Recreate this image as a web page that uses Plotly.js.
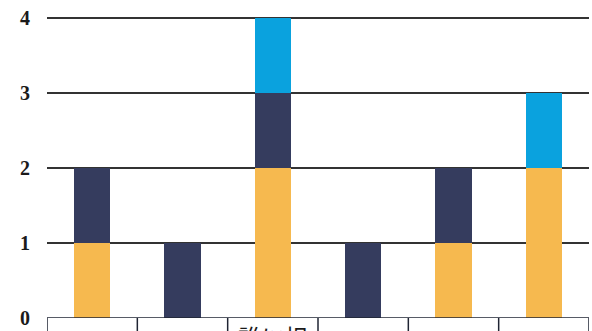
<!DOCTYPE html>
<html>
<head>
<meta charset="utf-8">
<script src="https://cdn.plot.ly/plotly-3.0.1.min.js"></script>
<style>html,body{margin:0;padding:0;background:#fff;}#chart{width:592px;height:331px;}</style>
</head>
<body>
<div id="chart"></div>
<script>
// Category labels (only the third is legible, and only partly, in the cropped reference)
const categories = ["", "", "誰に相", "", "", ""];
const positions = [0, 1, 2, 3, 4, 5];
// Stacked series values
const orangeVals = [1, 0, 2, 0, 1, 2];
const navyVals   = [1, 1, 1, 1, 1, 0];
const blueVals   = [0, 0, 1, 0, 0, 1];
const yTicks = [0, 1, 2, 3, 4];

const barW = 0.4;
const traces = [
  {type: 'bar', x: positions, y: orangeVals, width: barW, marker: {color: '#F6B94F'}, hoverinfo: 'none'},
  {type: 'bar', x: positions, y: navyVals, width: barW, marker: {color: '#353C5E'}, hoverinfo: 'none'},
  {type: 'bar', x: positions, y: blueVals, width: barW, marker: {color: '#0AA2DE'}, hoverinfo: 'none'}
];

const shapes = [];
// table top border along y=0
shapes.push({type: 'line', xref: 'x', yref: 'y', x0: -0.5, x1: positions.length - 0.5, y0: 0, y1: 0,
  line: {color: '#1f2433', width: 1.5}, layer: 'above'});
// table vertical separators
for (let i = 0; i <= positions.length; i++) {
  shapes.push({type: 'line', xref: 'x', yref: 'paper', x0: i - 0.5, x1: i - 0.5, y0: 0, y1: -0.3,
    line: {color: '#1f2433', width: 1.5}, layer: 'above'});
}

const layout = {
  width: 592, height: 331,
  margin: {l: 47, r: 3, t: 14, b: 13, pad: 0},
  paper_bgcolor: '#fff', plot_bgcolor: '#fff',
  barmode: 'stack',
  showlegend: false,
  xaxis: {
    range: [-0.5, positions.length - 0.5],
    tickvals: positions, ticktext: categories,
    showgrid: false, zeroline: false, showline: false, ticks: '',
    tickfont: {family: 'Noto Sans CJK JP', size: 23, color: '#1a1a1a'},
    ticklabelstandoff: 4,
    automargin: false, fixedrange: true
  },
  yaxis: {
    range: [0, 4.05],
    tickvals: yTicks,
    showgrid: true, gridcolor: '#333333', gridwidth: 2,
    zeroline: false, showline: false, ticks: '',
    tickfont: {family: 'Liberation Serif', size: 20, color: '#1a1a1a', weight: 'bold'},
    ticklabelstandoff: 16,
    automargin: false, fixedrange: true
  },
  shapes: shapes
};

Plotly.newPlot('chart', traces, layout, {staticPlot: true, displayModeBar: false});
</script>
</body>
</html>
